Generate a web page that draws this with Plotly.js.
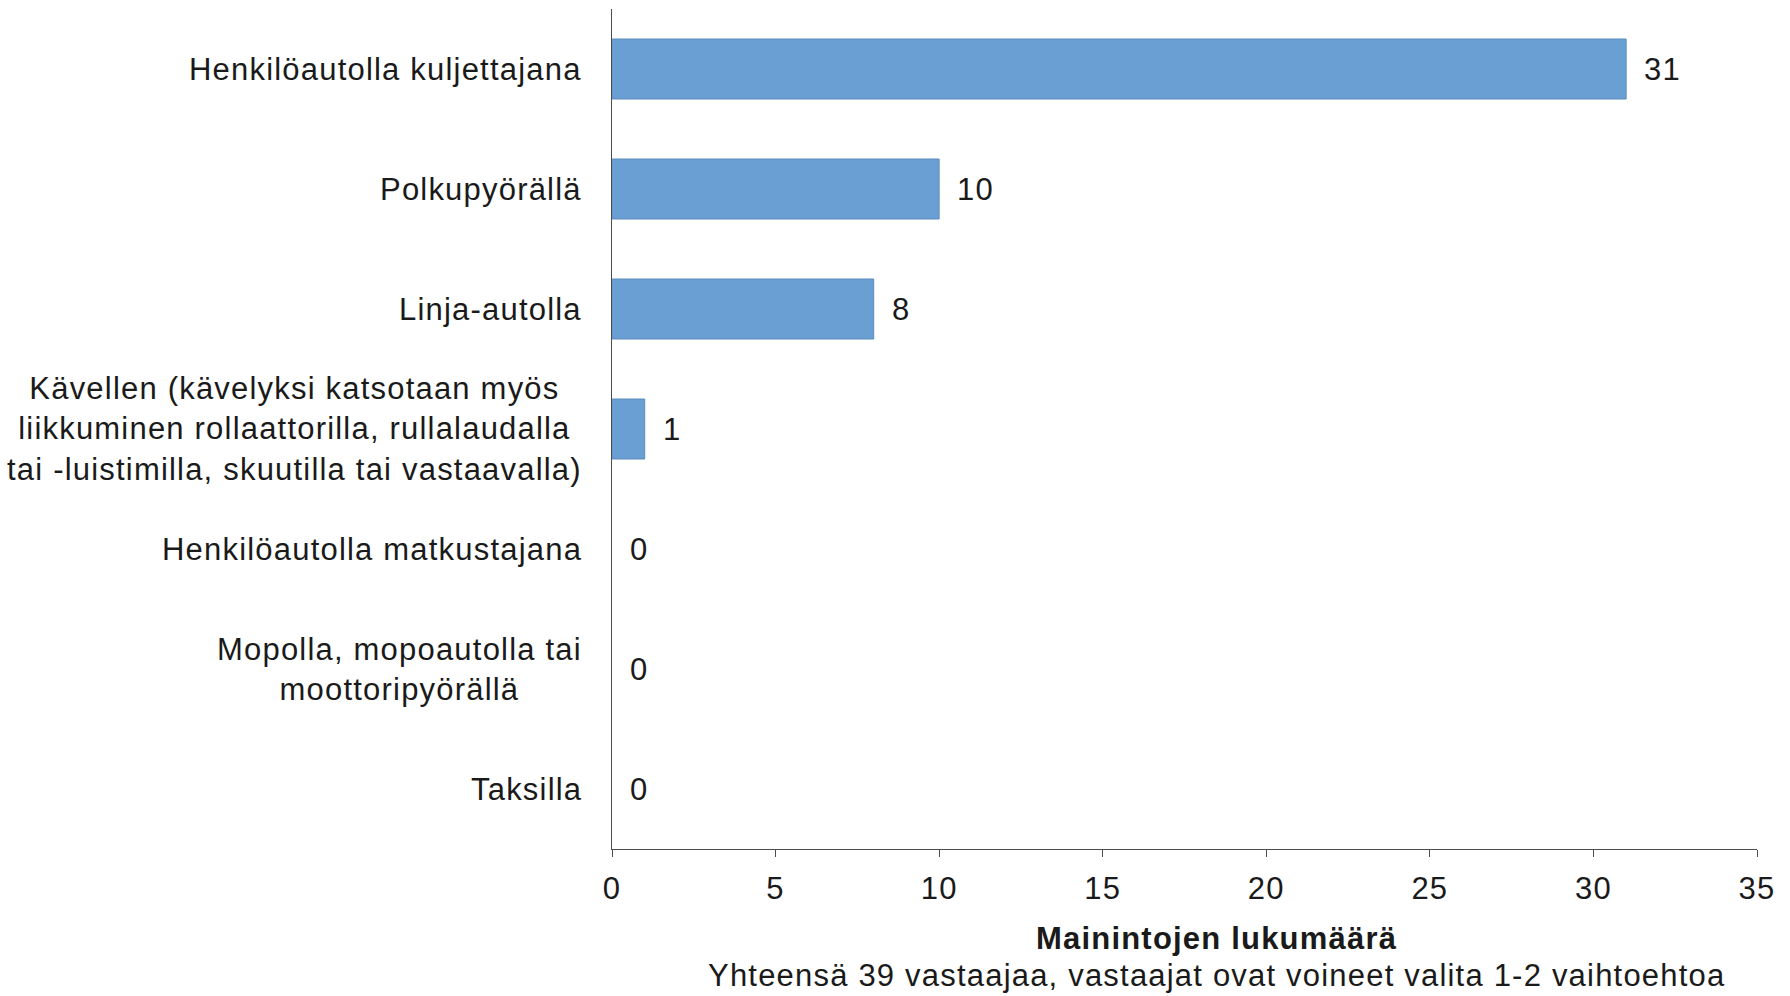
<!DOCTYPE html>
<html>
<head>
<meta charset="utf-8">
<script src="https://cdn.plot.ly/plotly-3.0.1.min.js"></script>
<style>
html,body{margin:0;padding:0;background:#fff;}
#chart{width:1790px;height:996px;}
svg text{letter-spacing:1.2px;}
</style>
</head>
<body>
<div id="chart"></div>
<script>
const categories = [
  "Henkilöautolla kuljettajana",
  "Polkupyörällä",
  "Linja-autolla",
  "Kävellen (kävelyksi katsotaan myös<br>liikkuminen rollaattorilla, rullalaudalla<br>tai -luistimilla, skuutilla tai vastaavalla)",
  "Henkilöautolla matkustajana",
  "Mopolla, mopoautolla tai<br>moottoripyörällä",
  "Taksilla"
];
const values = [31, 10, 8, 1, 0, 0, 0];
const xTickValues = [0, 5, 10, 15, 20, 25, 30, 35];
const xAxisTitle = "Mainintojen lukumäärä";
const subTitle = "Yhteensä 39 vastaajaa, vastaajat ovat voineet valita 1-2 vaihtoehtoa";

const FONT = "Liberation Sans, Arial, sans-serif";
const FS = 31;
const TXT = "#1a1a1a";

const catIds = categories.map((c, i) => "c" + i);

const trace = {
  type: "bar",
  orientation: "h",
  x: values,
  y: catIds,
  marker: { color: "#6a9fd4", line: { color: "#5b8cbf", width: values.map(v => v > 0 ? 1 : 0) } },
  hoverinfo: "x"
};

const annotations = [];
categories.forEach((c, i) => {
  annotations.push({
    x: 0, xref: "paper", y: catIds[i], yref: "y",
    xanchor: "right", yanchor: "middle", xshift: -28,
    align: "center", showarrow: false, text: c,
    font: { family: FONT, size: FS, color: TXT }
  });
  annotations.push({
    x: values[i], xref: "x", y: catIds[i], yref: "y",
    xanchor: "left", yanchor: "middle", xshift: 16,
    showarrow: false, text: String(values[i]),
    font: { family: FONT, size: FS, color: TXT }
  });
});
annotations.push({
  x: 0.528, xref: "paper", y: -0.106, yref: "paper",
  xanchor: "center", yanchor: "middle", showarrow: false,
  text: "<b>" + xAxisTitle + "</b>",
  font: { family: FONT, size: FS, color: TXT }
});
annotations.push({
  x: 0.528, xref: "paper", y: -0.151, yref: "paper",
  xanchor: "center", yanchor: "middle", showarrow: false,
  text: subTitle,
  font: { family: FONT, size: FS, color: TXT }
});

const layout = {
  width: 1790, height: 996,
  margin: { l: 612, r: 33, t: 9, b: 147 },
  paper_bgcolor: "#ffffff", plot_bgcolor: "#ffffff",
  showlegend: false,
  bargap: 0.5,
  font: { family: FONT, size: FS, color: TXT },
  xaxis: {
    range: [0, 35], tickvals: xTickValues, ticktext: xTickValues.map(String),
    showgrid: false, zeroline: false, showline: true, linecolor: "#4d4d4d", linewidth: 1,
    ticks: "outside", ticklen: 7, tickcolor: "#4d4d4d", tickwidth: 1,
    tickfont: { family: FONT, size: FS, color: TXT },
    ticklabelstandoff: 5, fixedrange: true
  },
  yaxis: {
    type: "category", categoryorder: "array", categoryarray: catIds,
    autorange: "reversed", showticklabels: false, showgrid: false, zeroline: false,
    showline: true, linecolor: "#4d4d4d", linewidth: 1, ticks: "", fixedrange: true
  },
  annotations: annotations
};

Plotly.newPlot("chart", [trace], layout, { displayModeBar: false, staticPlot: true });
</script>
</body>
</html>
